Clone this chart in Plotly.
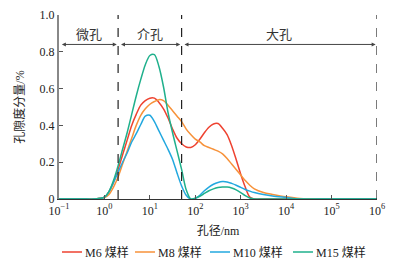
import math
import plotly.graph_objects as go

# log10 of pore diameter (nm)
log_d = [-1, -0.5, -0.2, 0, 0.1, 0.2, 0.3, 0.4, 0.5, 0.6, 0.7, 0.8, 0.9, 1.0, 1.1, 1.2,
         1.3, 1.4, 1.5, 1.6, 1.7, 1.8, 1.9, 2.0, 2.1, 2.2, 2.3, 2.4, 2.5, 2.6, 2.7, 2.8,
         2.9, 3.0, 3.1, 3.2, 3.3, 3.5, 3.7, 4.0, 4.3, 5.0, 6.0]
diam = [10 ** v for v in log_d]

m6 = [0, 0, 0, 0.01, 0.04, 0.09, 0.16, 0.24, 0.32, 0.40, 0.46, 0.51, 0.535, 0.548, 0.548, 0.525,
      0.49, 0.44, 0.38, 0.33, 0.30, 0.283, 0.28, 0.295, 0.325, 0.36, 0.39, 0.408, 0.41, 0.385, 0.35, 0.29,
      0.215, 0.135, 0.065, 0.01, 0, 0, 0, 0, 0, 0, 0]
m8 = [0, 0, 0, 0.008, 0.025, 0.065, 0.12, 0.19, 0.26, 0.33, 0.40, 0.455, 0.49, 0.515, 0.53, 0.54,
      0.535, 0.51, 0.48, 0.45, 0.42, 0.38, 0.35, 0.325, 0.31, 0.29, 0.28, 0.27, 0.26, 0.245, 0.22, 0.19,
      0.16, 0.13, 0.10, 0.075, 0.055, 0.035, 0.025, 0.012, 0.003, 0, 0]
m10 = [0, 0, 0, 0.01, 0.04, 0.09, 0.145, 0.20, 0.25, 0.31, 0.355, 0.405, 0.45, 0.455, 0.42, 0.37,
       0.32, 0.27, 0.215, 0.14, 0.07, 0.02, 0.0, 0.003, 0.02, 0.045, 0.065, 0.08, 0.09, 0.095, 0.093, 0.085,
       0.075, 0.063, 0.052, 0.043, 0.035, 0.024, 0.016, 0.008, 0, 0, 0]
m15 = [0, 0, 0, 0.01, 0.04, 0.10, 0.18, 0.27, 0.36, 0.46, 0.56, 0.65, 0.73, 0.78, 0.785, 0.72,
       0.61, 0.47, 0.36, 0.26, 0.16, 0.05, 0.0, 0.005, 0.015, 0.03, 0.045, 0.055, 0.062, 0.065, 0.065, 0.06,
       0.05, 0.035, 0.018, 0.005, 0, 0, 0, 0, 0, 0, 0]

names = ["M6 煤样", "M8 煤样", "M10 煤样", "M15 煤样"]
colors = ["#ee4230", "#f7923a", "#23a8df", "#1fb08c"]
values = [m6, m8, m10, m15]

x_tickvals = [0.1, 1, 10, 100, 1e3, 1e4, 1e5, 1e6]
x_ticktext = ["10<sup>−1</sup>", "10<sup>0</sup>", "10<sup>1</sup>", "10<sup>2</sup>",
              "10<sup>3</sup>", "10<sup>4</sup>", "10<sup>5</sup>", "10<sup>6</sup>"]
y_tickvals = [0, 0.2, 0.4, 0.6, 0.8, 1.0]
y_ticktext = ["0", "0.2", "0.4", "0.6", "0.8", "1.0"]

bounds = [0.1, 2, 50, 1e6]
zone_names = ["微孔", "介孔", "大孔"]
arrow_y = 0.84
label_y = 0.895

FONT = "Liberation Serif, Noto Sans CJK SC, serif"

W, H = 397, 263
L, R, T, B = 59, 20, 15, 64
PW, PH = W - L - R, H - T - B


def px_x(px):
    return (px - L) / PW


def px_y(py):
    return (H - B - py) / PH


fig = go.Figure()
for name, vals, col in zip(names, values, colors):
    fig.add_trace(go.Scatter(x=diam, y=vals, mode="lines", name=name, showlegend=False,
                             line=dict(color=col, width=1.5, shape="spline", smoothing=0.8)))

for b in bounds[1:]:
    fig.add_shape(type="line", xref="x", yref="y", x0=b, x1=b, y0=0, y1=1.0,
                  line=dict(color="#222", width=1.2, dash="dash"))

for i, nm in enumerate(zone_names):
    a, b = bounds[i], bounds[i + 1]
    la, lb = math.log10(a), math.log10(b)
    fig.add_annotation(x=lb - 0.03, y=arrow_y, ax=la + 0.03, ay=arrow_y, xref="x", yref="y",
                       axref="x", ayref="y", text="", showarrow=True, arrowhead=2,
                       startarrowhead=2, arrowside="end+start", arrowsize=0.8,
                       arrowwidth=1, arrowcolor="#444")
    fig.add_annotation(x=(la + lb) / 2, y=label_y, xref="x", yref="y", text=nm,
                       showarrow=False, font=dict(size=13, color="#333", family=FONT))

# custom legend row below the axis title
leg_starts = [62, 135, 210, 293]
leg_y = 252
for name, col, sx in zip(names, colors, leg_starts):
    fig.add_shape(type="line", xref="paper", yref="paper",
                  x0=px_x(sx), x1=px_x(sx + 20), y0=px_y(leg_y), y1=px_y(leg_y),
                  line=dict(color=col, width=1.5))
    fig.add_annotation(x=px_x(sx + 21), y=px_y(leg_y), xref="paper", yref="paper",
                       text=name, showarrow=False, xanchor="left", yanchor="middle",
                       font=dict(size=12, family=FONT, color="#222"))

fig.update_layout(
    width=W, height=H,
    margin=dict(l=L, r=R, t=T, b=B, autoexpand=False),
    paper_bgcolor="white", plot_bgcolor="white",
    font=dict(family=FONT, size=12, color="#222"),
    showlegend=False,
    xaxis=dict(type="log", range=[-1, 6], tickvals=x_tickvals, ticktext=x_ticktext,
               ticks="inside", ticklen=4, tickcolor="#555", showgrid=False, zeroline=False,
               showline=True, linecolor="#333", linewidth=1.2, automargin=False,
               title=dict(text="孔径/nm", standoff=10, font=dict(size=12))),
    yaxis=dict(range=[0, 1.0], tickvals=y_tickvals, ticktext=y_ticktext,
               ticks="inside", ticklen=4, tickcolor="#555", showgrid=False, zeroline=False,
               showline=True, linecolor="#888", linewidth=2, automargin=False,
               title=dict(text="孔隙度分量/%", standoff=12, font=dict(size=12))),
)

fig.write_html("out.html", config={"displayModeBar": False},
               post_script="document.body.style.margin='0px';")
